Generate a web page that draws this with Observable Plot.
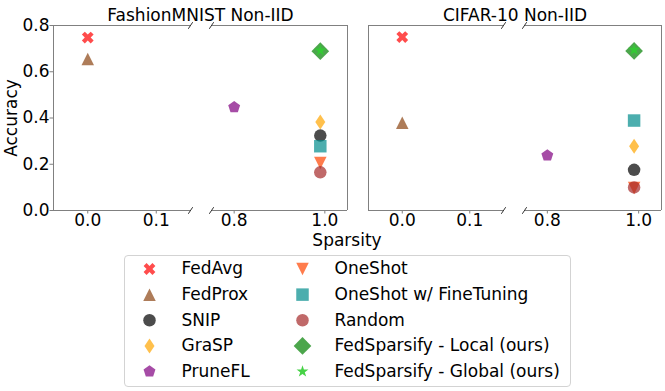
<!DOCTYPE html>
<html><head><meta charset="utf-8">
<script src="https://cdn.jsdelivr.net/npm/d3@7"></script>
<script src="https://cdn.jsdelivr.net/npm/@observablehq/plot@0.6"></script>
<style>
body{margin:0;background:#fff;}
#fig{position:relative;width:665px;height:391px;font-family:"DejaVu Sans",sans-serif;color:#000;overflow:hidden;background:#fff;}
#fig > *{position:absolute;}
.lbl{font-size:17px;line-height:13px;text-align:center;white-space:nowrap;}
</style></head><body><div id="fig"></div>
<script>
// ---------- data ----------
const methods = ["FedAvg","FedProx","SNIP","GraSP","PruneFL","OneShot","OneShot w/ FineTuning","Random","FedSparsify - Local (ours)","FedSparsify - Global (ours)"];
const sparsity = [0.0, 0.0, 0.99, 0.99, 0.8, 0.99, 0.99, 0.99, 0.99, 0.99];
const fmnistAccuracy = [0.748, 0.655, 0.324, 0.383, 0.447, 0.205, 0.278, 0.165, 0.689, 0.692];
const cifarAccuracy  = [0.750, 0.379, 0.176, 0.278, 0.238, 0.097, 0.389, 0.100, 0.690, 0.695];
const panelTitles = ["FashionMNIST Non-IID", "CIFAR-10 Non-IID"];
const colors = ["red","saddlebrown","black","orange","purple","orangered","darkcyan","brown","green","limegreen"];
const markerKinds = ["X","^","o","d","p","v","s","o","D","*"];
const xTicks = [0, 0.1, 0.8, 1.0];
const yTicks = [0, 0.2, 0.4, 0.6, 0.8];
const xLimLeft = [-0.05, 0.15];
const xLimRight = [0.75, 1.05];
const yLim = [0, 0.8];

// ---------- marker shapes (matplotlib-like) ----------
const M = 12.5; // marker size in px
function poly(pts){
  return {draw(ctx){ pts.forEach(([x,y],i)=> i ? ctx.lineTo(x,y) : ctx.moveTo(x,y)); ctx.closePath(); }};
}
function regular(n, R, rot){ return d3.range(n).map(k=>{const a=rot+k*2*Math.PI/n; return [R*Math.cos(a), R*Math.sin(a)];}); }
const plusPts = [[-1,-3],[1,-3],[1,-1],[3,-1],[3,1],[1,1],[1,3],[-1,3],[-1,1],[-3,1],[-3,-1],[-1,-1]];
const shapes = {
  "X": poly(plusPts.map(([x,y])=>[(x-y)/Math.SQRT2*M/6, (x+y)/Math.SQRT2*M/6])),
  "^": poly([[0,-M/2],[M/2,M/2],[-M/2,M/2]]),
  "v": poly([[0,M/2],[M/2,-M/2],[-M/2,-M/2]]),
  "o": {draw(ctx){ ctx.moveTo(M/2,0); ctx.arc(0,0,M/2,0,2*Math.PI); }},
  "d": poly([[0,-M*0.6],[M*0.4,0],[0,M*0.6],[-M*0.4,0]]),
  "p": poly(regular(5, M/2, -Math.PI/2)),
  "s": poly([[-M/2,-M/2],[M/2,-M/2],[M/2,M/2],[-M/2,M/2]]),
  "D": poly([[0,-M*0.707],[M*0.707,0],[0,M*0.707],[-M*0.707,0]]),
  "*": poly(d3.range(10).map(k=>{const a=-Math.PI/2+k*Math.PI/5; const R=(k%2? M*0.5*0.382 : M*0.5); return [R*Math.cos(a),R*Math.sin(a)];}))
};
const slash = {draw(ctx){ ctx.moveTo(-2.2,3.3); ctx.lineTo(2.2,-3.3); }};

const spineColor = "#808080";
const FS = 17;
const fmt = d3.format(".1f");

function panel(title, acc, width, xRange, showY){
  const rows = methods.map((m,j)=>({method:m, sparsity:sparsity[j], accuracy:acc[j]}));
  const hSpines = [xLimLeft, xLimRight].flatMap(([a,b]) => yLim.map(y => ({x1:a, x2:b, y})));
  const breaks = [xLimLeft[1], xLimRight[0]].flatMap(x => yLim.map(y => ({x, y})));
  const marks = [
    Plot.ruleY(hSpines, {x1:"x1", x2:"x2", y:"y", stroke:spineColor}),
    Plot.ruleX([xLimLeft[0], xLimRight[1]], {x:d=>d, y1:yLim[0], y2:yLim[1], stroke:spineColor}),
    Plot.dot(breaks, {x:"x", y:"y", symbol:slash, r:4, stroke:"#333", fill:"none", strokeWidth:1}),
    Plot.axisX({ticks:xTicks, tickFormat:fmt, tickSize:3.5, tickPadding:0, fontSize:FS, stroke:spineColor, fill:"black", label:null}),
    Plot.text([title], {frameAnchor:"top", lineAnchor:"bottom", textAnchor:"middle", dy:-5, fontSize:FS, fill:"black"})
  ];
  if (showY) {
    marks.push(Plot.axisY({ticks:yTicks, tickFormat:fmt, tickSize:3.5, tickPadding:0.5, fontSize:FS, stroke:spineColor, fill:"black", label:null}));
    marks.push(Plot.text(["Accuracy"], {frameAnchor:"left", textAnchor:"middle", lineAnchor:"middle", rotate:-90, dx:-42, fontSize:FS, fill:"black"}));
  } else {
    marks.push(Plot.axisY({ticks:[], label:null}));
  }
  rows.forEach((r,j)=>{
    marks.push(Plot.dot([r], {x:"sparsity", y:"accuracy", symbol:shapes[markerKinds[j]], r:6, fill:colors[j], fillOpacity:j===9?0.9:0.7, stroke:"none"}));
  });
  return Plot.plot({
    width, height:250,
    marginLeft:xRange[0], marginRight:width-xRange[3], marginTop:25, marginBottom:40,
    x:{type:"linear", domain:[xLimLeft[0], xLimLeft[1], xLimRight[0], xLimRight[1]], range:xRange},
    y:{domain:yLim},
    style:{fontFamily:"DejaVu Sans", fontSize:FS+"px", background:"transparent", overflow:"visible"},
    marks
  });
}

const fig = document.getElementById("fig");
const p1 = panel(panelTitles[0], fmnistAccuracy, 350, [53,190,211,347], true);
p1.style.left = "0px"; p1.style.top = "0px";
const p2 = panel(panelTitles[1], cifarAccuracy, 315, [18,153,174,311], false);
p2.style.left = "350px"; p2.style.top = "0px";
fig.appendChild(p1); fig.appendChild(p2);

const xl = document.createElement("div");
xl.className = "lbl"; xl.textContent = "Sparsity";
xl.style.left = "297px"; xl.style.width = "100px"; xl.style.top = "234px";
fig.appendChild(xl);

// ---------- legend ----------
const legendRows = methods.map((m,j)=>({method:m, col:Math.floor(j/5), row:j%5}));
const legendMarks = [];
legendRows.forEach((r,j)=>{
  legendMarks.push(Plot.dot([r], {x:"col", y:"row", symbol:shapes[markerKinds[j]], r:6, fill:colors[j], fillOpacity:j===9?0.9:0.7, stroke:"none"}));
});
legendMarks.push(Plot.text(legendRows, {x:"col", y:"row", text:"method", dx:32, textAnchor:"start", fontSize:FS, fill:"black"}));
const leg = Plot.plot({
  width:445, height:130, margin:0,
  x:{type:"linear", domain:[0,1], range:[24,177], axis:null},
  y:{type:"linear", domain:[0,4], range:[12.5,115], axis:null},
  style:{fontFamily:"DejaVu Sans", fontSize:FS+"px", background:"#fff", overflow:"visible"},
  marks:legendMarks
});
leg.style.left = "124px"; leg.style.top = "255px";
leg.style.border = "1px solid #d3d3d3"; leg.style.borderRadius = "4px";
fig.appendChild(leg);
</script></body></html>
